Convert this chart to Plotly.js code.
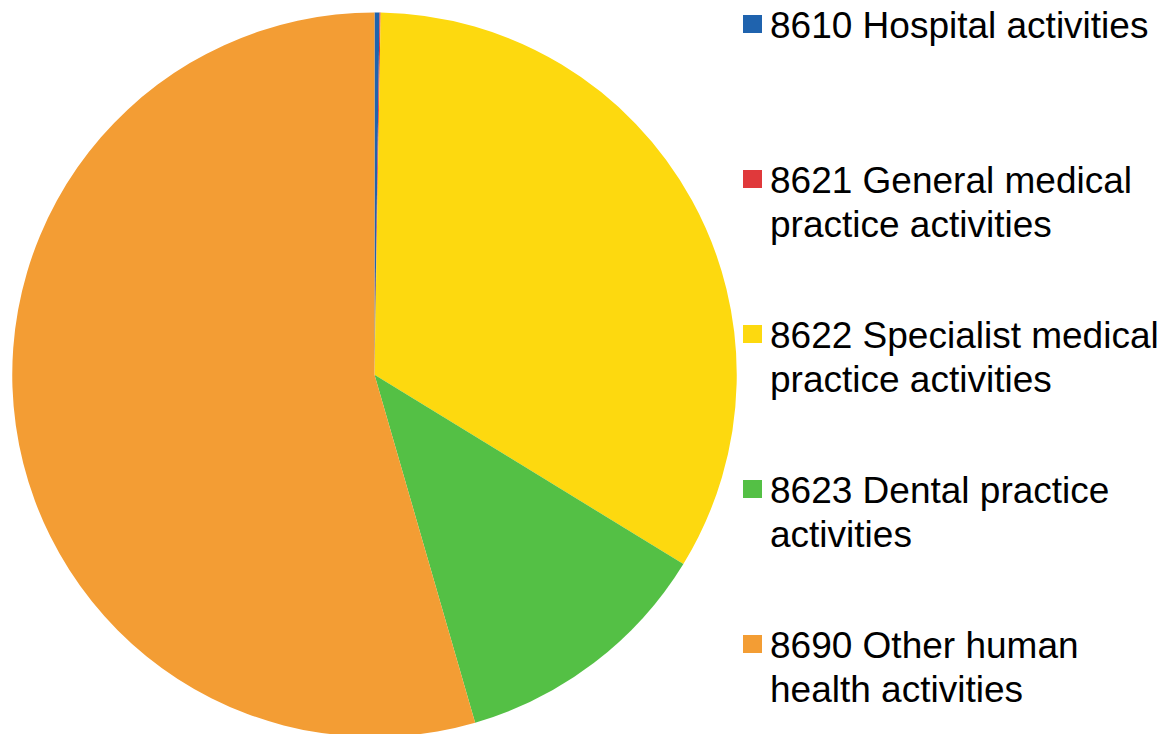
<!DOCTYPE html>
<html><head><meta charset="utf-8">
<script src="https://cdn.plot.ly/plotly-3.0.1.min.js"></script>
<style>html,body{margin:0;padding:0;overflow:hidden;background:#fff}</style>
</head><body>
<div id="chart" style="width:1168px;height:737px"></div>
<script>
const labels = ["8610 Hospital activities", "8621 General medical<br>practice activities", "8622 Specialist medical<br>practice activities", "8623 Dental practice<br>activities", "8690 Other human<br>health activities"];
const values = [0.22, 0.05, 33.48, 11.77, 54.48];
const colors = ["#1F63AE", "#E0393B", "#FDD90F", "#54C045", "#F39D34"];

const W = 1168, H = 737;
const font = {family: "Liberation Sans, Arial, sans-serif", size: 37, color: "#000"};
const annotations = [], shapes = [];
labels.forEach((lab, i) => {
  const top = 15 + i * 155;
  shapes.push({type: "rect", xref: "paper", yref: "paper",
    x0: 743 / W, x1: 762 / W, y0: (H - top) / H, y1: (H - top - 18) / H,
    fillcolor: colors[i], line: {width: 0}});
  lab.split("<br>").forEach((line, j) => {
    const ytop = top - 12 + j * 44;
    annotations.push({xref: "paper", yref: "paper", x: 768 / W, y: (H - ytop) / H,
      xanchor: "left", yanchor: "top", align: "left", showarrow: false,
      text: line, font: font});
  });
});

Plotly.newPlot("chart", [{
  type: "pie", labels: labels, values: values, sort: false, direction: "clockwise", rotation: 0,
  marker: {colors: colors, line: {width: 0}}, textinfo: "none", hoverinfo: "label+percent",
  domain: {x: [12.25 / W, 736.75 / W], y: [0, 724.5 / H]}, showlegend: false
}], {
  width: W, height: H, margin: {l: 0, r: 0, t: 0, b: 0},
  paper_bgcolor: "#fff", showlegend: false,
  annotations: annotations, shapes: shapes
}, {displayModeBar: false});
</script>
</body></html>
